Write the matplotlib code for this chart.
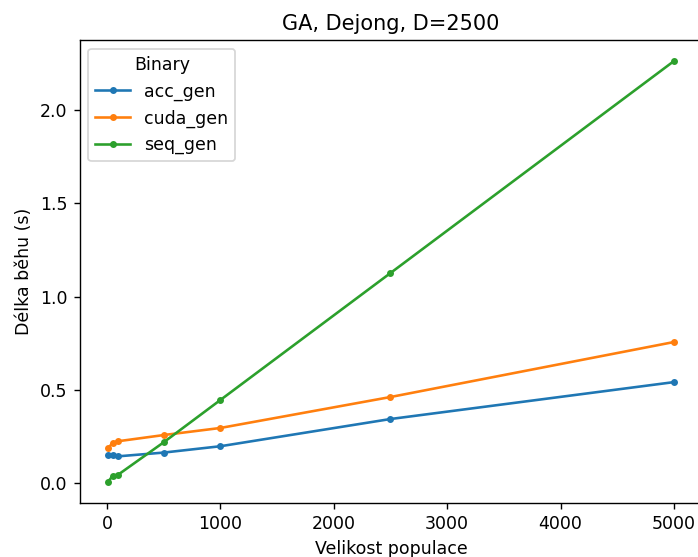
import matplotlib
matplotlib.use("Agg")
import matplotlib.pyplot as plt

# population sizes and measured run times (s)
pop_sizes = [10, 50, 100, 500, 1000, 2500, 5000]
acc_gen = [0.150, 0.150, 0.143, 0.163, 0.197, 0.343, 0.541]
cuda_gen = [0.186, 0.216, 0.224, 0.257, 0.295, 0.461, 0.756]
seq_gen = [0.007, 0.038, 0.045, 0.218, 0.445, 1.126, 2.263]

fig = plt.figure(figsize=(698 / 125, 557 / 125), dpi=125)
ax = fig.add_subplot(1, 1, 1)
ax.plot(pop_sizes, acc_gen, marker='.', label='acc_gen')
ax.plot(pop_sizes, cuda_gen, marker='.', label='cuda_gen')
ax.plot(pop_sizes, seq_gen, marker='.', label='seq_gen')

ax.set_title("GA, Dejong, D=2500")
ax.set_xlabel("Velikost populace")
ax.set_ylabel("Délka běhu (s)")
ax.legend(title="Binary", loc="upper left")

fig.subplots_adjust(left=79.8 / 698, right=702.3 / 698, top=1 - 40 / 557, bottom=1 - 502.7 / 557)
fig.savefig("out.png", dpi=125)
